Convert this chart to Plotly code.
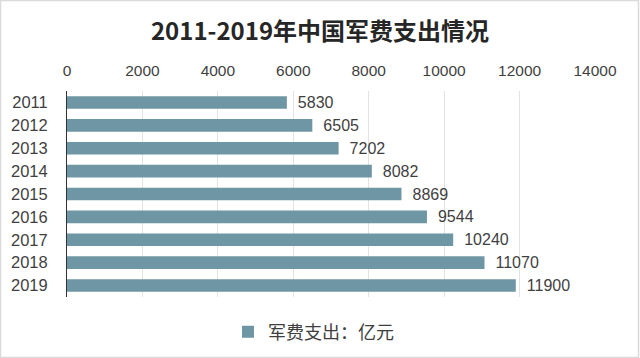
import plotly.graph_objects as go

years = ["2011", "2012", "2013", "2014", "2015", "2016", "2017", "2018", "2019"]
spending = [5830, 6505, 7202, 8082, 8869, 9544, 10240, 11070, 11900]
x_ticks = [0, 2000, 4000, 6000, 8000, 10000, 12000, 14000]

bar_color = "#6f96a4"
txt_color = "#3f3f3f"
num_font = "Liberation Sans, Arial, sans-serif"
cjk_font = "Noto Sans CJK SC, sans-serif"

W, H = 640, 358
L, R, T, B = 67, 45, 91, 61
pw, ph = W - L - R, H - T - B

fig = go.Figure()
fig.add_trace(go.Bar(
    y=years, x=spending, orientation="h",
    marker=dict(color=bar_color, line=dict(width=0)),
    text=[str(v) for v in spending], texttemplate="\u2002%{text}",
    textposition="outside", constraintext="none",
    textfont=dict(family=num_font, size=16, color=txt_color),
    cliponaxis=False,
    name="军费支出：亿元", showlegend=True,
))

# light frame around the whole picture
fig.add_shape(type="rect", xref="paper", yref="paper",
              x0=(0.5 - L) / pw, x1=(W - 1.5 - L) / pw,
              y0=-(B - 0.5) / ph, y1=1 + (T - 0.5) / ph,
              line=dict(color="#dadada", width=1.5), layer="below")

fig.update_layout(
    width=W, height=H,
    margin=dict(l=L, r=R, t=T, b=B, autoexpand=False),
    paper_bgcolor="white", plot_bgcolor="white",
    title=dict(text="<b>2011-2019年中国军费支出情况</b>", x=0.5, xanchor="center",
               y=1 - 32 / H, yanchor="middle", yref="container",
               font=dict(family=cjk_font, size=24, color="#262626")),
    bargap=0.45,
    legend=dict(orientation="h", x=228 / W, xanchor="left", xref="container",
                y=-0.08, yanchor="top",
                font=dict(family=cjk_font, size=18, color=txt_color)),
    xaxis=dict(side="top", range=[0, 14000], tickvals=x_ticks,
               ticktext=[str(t) for t in x_ticks], tickangle=0,
               automargin=False,
               showgrid=True, gridcolor="#e3e3e3", gridwidth=1,
               zeroline=False, showline=False, ticks="",
               ticklabelstandoff=11,
               tickfont=dict(family=num_font, size=15.5, color=txt_color)),
    yaxis=dict(autorange="reversed", showline=True, linecolor="#333333", linewidth=1,
               automargin=False,
               ticks="", ticklabelstandoff=15, showgrid=False,
               tickfont=dict(family=num_font, size=16.5, color=txt_color)),
)

fig.write_html("out.html", config={"displayModeBar": False},
               post_script="document.body.style.margin='0';")
